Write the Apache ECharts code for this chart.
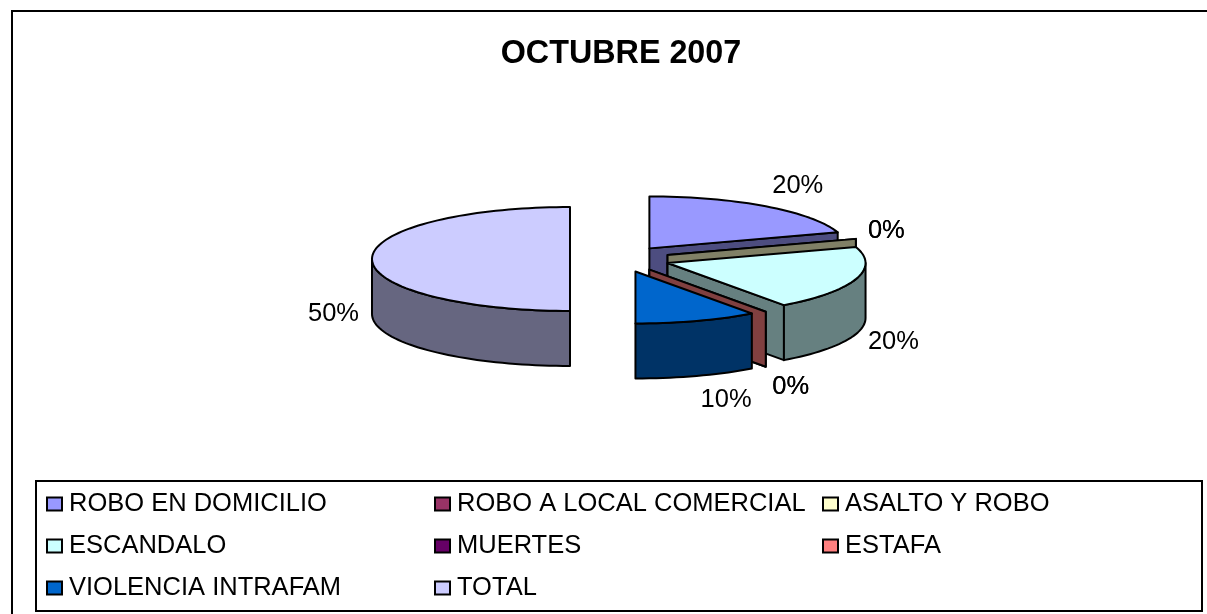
<!DOCTYPE html>
<html><head><meta charset="utf-8">
<style>html,body{margin:0;padding:0;background:#fff}#c{width:1207px;height:614px}</style>
<script src="https://cdn.jsdelivr.net/npm/echarts@6/dist/echarts.min.js"></script>
</head><body><div id="c"></div>
<script>
const titleText = 'OCTUBRE 2007';
const categories = ['ROBO EN DOMICILIO','ROBO A LOCAL COMERCIAL','ASALTO Y ROBO','ESCANDALO','MUERTES','ESTAFA','VIOLENCIA INTRAFAM','TOTAL'];
const values = [20,0,0,20,0,0,10,50];
const topColors = ['#9999FF','#993366','#FFFFCC','#CCFFFF','#660066','#FF8080','#0066CC','#CCCCFF'];
const sideColors = ['#4D4D80','#4D1A33','#808066','#668080','#330033','#804040','#003366','#666680'];
const legendColumns = [[0,3,6],[1,4,7],[2,5]];
const legendLeft = [46,434,822];

const FONT = '"Liberation Sans", Arial, sans-serif';
const PIE = {cx:620, cy:259, rx:198, ry:52, depth:55, explode:50};
const total = values.reduce((a,b)=>a+b,0);
const rad = d => d*Math.PI/180;
let acc = 0;
const spans = values.map(v => { const a = acc/total*360; acc += v; return [a, acc/total*360]; });

function makeRender(i){
  return function(params, api){
    const [a,b] = spans[i];
    const mid = (a+b)/2;
    const sx = Math.sin(rad(mid)), cs = Math.cos(rad(mid));
    const ratio = PIE.ry/PIE.rx;
    const ox = PIE.cx + PIE.explode*sx;
    const oy = PIE.cy - PIE.explode*cs*ratio;
    const rim = t => [ox + PIE.rx*Math.sin(rad(t)), oy - PIE.ry*Math.cos(rad(t))];
    const down = p => [p[0], p[1]+PIE.depth];
    const arc = (s,e) => { const pts=[]; const n=Math.max(1,Math.ceil((e-s)/2)); for(let k=0;k<=n;k++) pts.push(rim(s+(e-s)*k/n)); return pts; };
    const stroke = {stroke:'#000', lineWidth:2, lineJoin:'round'};
    const children = [];
    const poly = (pts, fill) => children.push({type:'polygon', shape:{points:pts}, style:Object.assign({fill}, stroke)});
    const c = [ox,oy];
    if (Math.sin(rad(b)) > 1e-6) {
      const e = rim(b);
      poly([c,e,down(e),down(c)], sideColors[i]);
    }
    const fs = Math.max(a,90), fe = Math.min(b,270);
    if (fe > fs) {
      const front = arc(fs,fe);
      poly(front.concat(front.slice().reverse().map(down)), sideColors[i]);
    }
    if (b > a) poly([c].concat(arc(a,b)), topColors[i]);
    const v = api.value(0);
    const p = rim(mid);
    const gap = 3 + 10*sx*sx;
    const lx = p[0] + (sx>=0 ? gap : -gap);
    const ly = p[1] + (cs<0.01 ? PIE.depth : 0) - 25.5*cs;
    children.push({type:'text', z2:100, style:{x:lx, y:ly, text:v+'%', fill:'#000', font:'25.5px '+FONT, align:sx>=0?'left':'right', verticalAlign:'middle'}});
    return {type:'group', children};
  };
}

const series = categories.map((name,i)=>({
  type:'custom', name, coordinateSystem:'none', data:[[values[i]]], z:2+i,
  renderItem:makeRender(i), silent:true,
  itemStyle:{color:topColors[i]}
}));

const legend = legendColumns.map((col,k)=>({
  show:true, orient:'vertical', left:legendLeft[k], top:490, padding:0,
  selectedMode:false, icon:'rect', itemWidth:15, itemHeight:13, itemGap:14,
  itemStyle:{borderColor:'#000', borderWidth:2},
  textStyle:{fontFamily:FONT, fontSize:25.5, color:'#000', lineHeight:28, padding:[0,0,0,2]},
  data:col.map(i=>categories[i])
}));

const chart = echarts.init(document.getElementById('c'), null, {renderer:'canvas'});
chart.setOption({
  animation:false, backgroundColor:'#fff',
  title:{text:titleText, left:616, top:33, textAlign:'center', textStyle:{fontFamily:FONT, fontSize:32.3, fontWeight:'bold', color:'#000'}},
  legend, series,
  graphic:[
    {type:'rect', z:1, shape:{x:12,y:11,width:1300,height:800}, style:{fill:null, stroke:'#000', lineWidth:2}},
    {type:'rect', z:1, shape:{x:36,y:481,width:1166,height:130}, style:{fill:null, stroke:'#000', lineWidth:2}}
  ]
});
</script></body></html>
